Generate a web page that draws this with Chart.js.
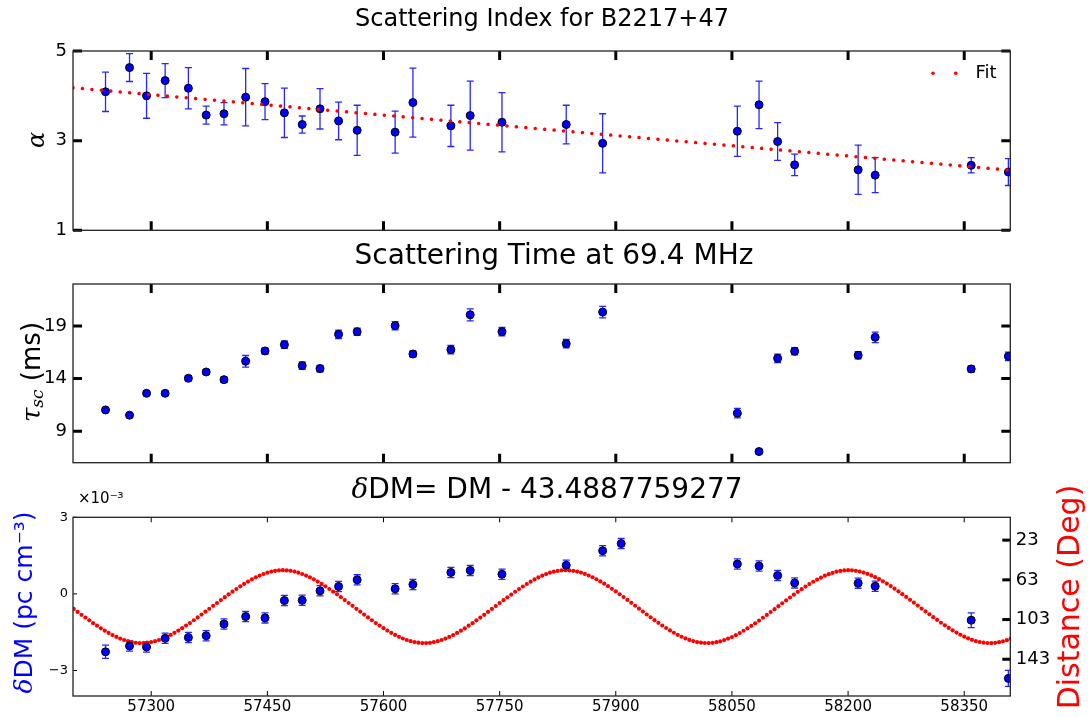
<!DOCTYPE html>
<html><head><meta charset="utf-8">
<script src="https://cdn.jsdelivr.net/npm/chart.js@4/dist/chart.umd.min.js"></script>
<style>
html,body{margin:0;padding:0;background:#fff;}
body{width:1091px;height:717px;position:relative;overflow:hidden;}
canvas{position:absolute;left:0;}
</style></head><body>
<canvas id="c1" width="1091" height="250" style="top:0px"></canvas>
<canvas id="c2" width="1091" height="245" style="top:235px"></canvas>
<canvas id="c3" width="1091" height="247" style="top:470px"></canvas>
<script>
// ---------- data ----------
const xTicks = [57300, 57450, 57600, 57750, 57900, 58050, 58200, 58350];
const xRange = [57199, 58409.5];

const mjd = [57241, 57272, 57294, 57318, 57348, 57371, 57394, 57422, 57447, 57472, 57495, 57518, 57542, 57566, 57615, 57638, 57687, 57712, 57753, 57836, 57883, 58057, 58085, 58109, 58131, 58213, 58235, 58359, 58407];

const alpha = [4.09, 4.63, 4.00, 4.34, 4.17, 3.57, 3.60, 3.97, 3.87, 3.62, 3.36, 3.71, 3.44, 3.23, 3.19, 3.85, 3.33, 3.56, 3.41, 3.36, 2.94, 3.21, 3.80, 2.98, 2.46, 2.35, 2.23, 2.45, 2.30];
const alphaErr = [0.44, 0.31, 0.50, 0.38, 0.46, 0.20, 0.25, 0.64, 0.40, 0.55, 0.19, 0.45, 0.42, 0.56, 0.47, 0.77, 0.46, 0.77, 0.66, 0.43, 0.66, 0.56, 0.53, 0.42, 0.24, 0.55, 0.39, 0.17, 0.30];
const fitMjd = [57199, 58409.5];
const fitAlpha = [4.18, 2.34];
const alphaTicks = [1, 3, 5];

const tau = [11.02, 10.52, 12.6, 12.6, 14.03, 14.63, 13.9, 15.65, 16.63, 17.23, 15.23, 14.95, 18.21, 18.46, 19.03, 16.34, 16.75, 20.07, 18.46, 17.32, 20.33, 10.71, 7.06, 15.93, 16.6, 16.22, 17.93, 14.92, 16.12];
const tauErr = [0.2, 0.2, 0.2, 0.2, 0.25, 0.2, 0.25, 0.55, 0.3, 0.35, 0.35, 0.3, 0.4, 0.35, 0.4, 0.3, 0.4, 0.57, 0.4, 0.4, 0.55, 0.45, 0.2, 0.4, 0.35, 0.35, 0.5, 0.3, 0.4];
const tauTicks = [9, 14, 19];

const dmMjd = [57241, 57272, 57294, 57318, 57348, 57371, 57394, 57422, 57447, 57472, 57495, 57518, 57542, 57566, 57615, 57638, 57687, 57712, 57753, 57836, 57883, 57907, 58057, 58085, 58109, 58131, 58213, 58235, 58359, 58407];
// delta DM in units of 1e-3 pc cm^-3
const dm = [-2.27, -2.04, -2.08, -1.74, -1.71, -1.64, -1.18, -0.89, -0.94, -0.26, -0.25, 0.12, 0.29, 0.55, 0.20, 0.37, 0.84, 0.92, 0.77, 1.12, 1.69, 1.97, 1.17, 1.09, 0.72, 0.43, 0.42, 0.30, -1.03, -3.31];
const dmErr = [0.26, 0.2, 0.2, 0.2, 0.2, 0.2, 0.2, 0.2, 0.2, 0.2, 0.2, 0.2, 0.2, 0.2, 0.2, 0.2, 0.2, 0.2, 0.2, 0.2, 0.2, 0.2, 0.2, 0.2, 0.2, 0.2, 0.2, 0.2, 0.29, 0.31];
const dmTicks = [-3, 0, 3];

const distMjd = [57195,57200,57205,57210,57215,57220,57225,57230,57235,57240,57245,57250,57255,57260,57265,57270,57275,57280,57285,57290,
57295,57300,57305,57310,57315,57320,57325,57330,57335,57340,57345,57350,57355,57360,57365,57370,57375,57380,57385,57390,
57395,57400,57405,57410,57415,57420,57425,57430,57435,57440,57445,57450,57455,57460,57465,57470,57475,57480,57485,57490,
57495,57500,57505,57510,57515,57520,57525,57530,57535,57540,57545,57550,57555,57560,57565,57570,57575,57580,57585,57590,
57595,57600,57605,57610,57615,57620,57625,57630,57635,57640,57645,57650,57655,57660,57665,57670,57675,57680,57685,57690,
57695,57700,57705,57710,57715,57720,57725,57730,57735,57740,57745,57750,57755,57760,57765,57770,57775,57780,57785,57790,
57795,57800,57805,57810,57815,57820,57825,57830,57835,57840,57845,57850,57855,57860,57865,57870,57875,57880,57885,57890,
57895,57900,57905,57910,57915,57920,57925,57930,57935,57940,57945,57950,57955,57960,57965,57970,57975,57980,57985,57990,
57995,58000,58005,58010,58015,58020,58025,58030,58035,58040,58045,58050,58055,58060,58065,58070,58075,58080,58085,58090,
58095,58100,58105,58110,58115,58120,58125,58130,58135,58140,58145,58150,58155,58160,58165,58170,58175,58180,58185,58190,
58195,58200,58205,58210,58215,58220,58225,58230,58235,58240,58245,58250,58255,58260,58265,58270,58275,58280,58285,58290,
58295,58300,58305,58310,58315,58320,58325,58330,58335,58340,58345,58350,58355,58360,58365,58370,58375,58380,58385,58390,
58395,58400,58405,58410];
const dist = [89.4,92.3,95.3,98.2,101.0,103.8,106.6,109.2,111.8,114.2,116.5,118.6,120.5,122.2,123.6,124.8,125.7,126.4,126.7,126.7,
126.3,125.7,124.8,123.6,122.1,120.4,118.5,116.4,114.1,111.7,109.1,106.5,103.7,100.9,98.0,95.1,92.2,89.2,86.3,83.4,
80.5,77.6,74.9,72.2,69.5,67.1,64.7,62.5,60.5,58.7,57.1,55.8,54.7,53.9,53.5,53.3,53.5,53.9,54.7,55.8,
57.1,58.7,60.5,62.5,64.7,67.1,69.5,72.2,74.9,77.6,80.5,83.4,86.3,89.2,92.2,95.1,98.0,100.9,103.7,106.5,
109.1,111.7,114.1,116.4,118.5,120.4,122.1,123.6,124.8,125.7,126.3,126.7,126.7,126.4,125.7,124.8,123.6,122.2,120.5,118.6,
116.5,114.2,111.8,109.2,106.6,103.8,101.0,98.2,95.3,92.3,89.4,86.4,83.5,80.6,77.8,75.0,72.3,69.7,67.2,64.8,
62.6,60.6,58.8,57.2,55.8,54.8,54.0,53.5,53.3,53.5,53.9,54.7,55.7,57.0,58.6,60.4,62.4,64.6,66.9,69.4,
72.0,74.7,77.5,80.3,83.2,86.1,89.1,92.0,95.0,97.9,100.7,103.6,106.3,109.0,111.5,113.9,116.3,118.4,120.3,122.0,
123.5,124.7,125.7,126.3,126.6,126.7,126.4,125.8,124.9,123.7,122.2,120.6,118.7,116.6,114.3,111.9,109.4,106.7,104.0,101.2,
98.3,95.4,92.5,89.5,86.6,83.7,80.8,77.9,75.1,72.4,69.8,67.3,64.9,62.7,60.7,58.8,57.3,55.9,54.8,54.0,
53.5,53.3,53.4,53.9,54.6,55.7,57.0,58.5,60.3,62.3,64.5,66.8,69.3,71.9,74.6,77.4,80.2,83.1,86.0,88.9,
91.9,94.8,97.7,100.6,103.4,106.2,108.8,111.4,113.8,116.1,118.3,120.2,121.9,123.4,124.7,125.6,126.3,126.6,126.7,126.4,
125.8,124.9,123.8,122.3];
const distTicks = [23, 63, 103, 143];

// ---------- helpers ----------
Chart.defaults.font.family = "'DejaVu Sans', sans-serif";
Chart.defaults.color = '#000';
Chart.defaults.animation = false;

const FONT = "'DejaVu Sans', sans-serif";
function pts(xs, ys) { return xs.map((x, i) => ({ x: x, y: ys[i] })); }
function fixTicks(arr) { return s => { s.ticks = arr.map(v => ({ value: v })); }; }
function minusFmt(v) { return v < 0 ? '\u2212' + Math.abs(v) : String(v); }

function errorBars(xs, ys, es, yId) {
  return {
    id: 'errbars',
    beforeDatasetsDraw(chart) {
      const ctx = chart.ctx, sx = chart.scales.x, sy = chart.scales[yId], a = chart.chartArea;
      ctx.save();
      ctx.beginPath(); ctx.rect(a.left, a.top, a.width, a.height); ctx.clip();
      ctx.strokeStyle = 'rgba(0,0,255,0.85)';
      ctx.lineWidth = 1.3;
      xs.forEach((x, i) => {
        const px = sx.getPixelForValue(x);
        const y1 = sy.getPixelForValue(ys[i] - es[i]);
        const y2 = sy.getPixelForValue(ys[i] + es[i]);
        ctx.beginPath();
        ctx.moveTo(px, y1); ctx.lineTo(px, y2);
        ctx.moveTo(px - 3.5, y1); ctx.lineTo(px + 3.5, y1);
        ctx.moveTo(px - 3.5, y2); ctx.lineTo(px + 3.5, y2);
        ctx.stroke();
      });
      ctx.restore();
    }
  };
}

function frame(spec) {
  return {
    id: 'frame',
    afterDatasetsDraw(chart) {
      const ctx = chart.ctx, a = chart.chartArea;
      ctx.save();
      ctx.strokeStyle = '#000';
      const sx = chart.scales.x;
      ctx.lineWidth = spec.xw;
      sx.ticks.forEach(t => {
        const p = sx.getPixelForValue(t.value);
        ctx.beginPath();
        ctx.moveTo(p, a.top); ctx.lineTo(p, a.top + spec.xl);
        ctx.moveTo(p, a.bottom); ctx.lineTo(p, a.bottom - spec.xl);
        ctx.stroke();
      });
      const sl = chart.scales[spec.left];
      ctx.lineWidth = spec.lw;
      sl.ticks.forEach(t => {
        const p = sl.getPixelForValue(t.value);
        ctx.beginPath();
        ctx.moveTo(a.left, p); ctx.lineTo(a.left + spec.ll, p);
        if (!spec.right) { ctx.moveTo(a.right, p); ctx.lineTo(a.right - spec.ll, p); }
        ctx.stroke();
      });
      if (spec.right) {
        const sr = chart.scales[spec.right];
        ctx.lineWidth = spec.rw;
        sr.ticks.forEach(t => {
          const p = sr.getPixelForValue(t.value);
          ctx.beginPath(); ctx.moveTo(a.right, p); ctx.lineTo(a.right - spec.rl, p); ctx.stroke();
        });
      }
      ctx.strokeStyle = '#222';
      ctx.lineWidth = 1.3;
      ctx.strokeRect(a.left, a.top, a.width, a.height);
      ctx.restore();
    },
    afterDraw(chart) {
      const ctx = chart.ctx;
      ctx.save();
      if (spec.title) hText(ctx, spec.title.x, spec.title.y, spec.title.parts);
      if (spec.extra) spec.extra(ctx, chart);
      ctx.restore();
    }
  };
}

function measure(ctx, parts) {
  let total = 0;
  parts.forEach(p => { ctx.font = p.font; total += ctx.measureText(p.t).width; });
  return total;
}
function drawParts(ctx, parts, startX) {
  let cx = startX;
  ctx.textBaseline = 'middle';
  ctx.textAlign = 'left';
  parts.forEach(p => {
    ctx.font = p.font; ctx.fillStyle = p.color || '#000';
    ctx.fillText(p.t, cx, p.dy || 0);
    cx += ctx.measureText(p.t).width;
  });
}
function hText(ctx, x, y, parts) {
  ctx.save(); ctx.translate(x, y);
  drawParts(ctx, parts, -measure(ctx, parts) / 2);
  ctx.restore();
}
function rotText(ctx, x, y, parts) {
  ctx.save(); ctx.translate(x, y); ctx.rotate(-Math.PI / 2);
  drawParts(ctx, parts, -measure(ctx, parts) / 2);
  ctx.restore();
}

function xScale(show, h) {
  return {
    type: 'linear', min: xRange[0], max: xRange[1],
    afterBuildTicks: fixTicks(xTicks),
    ticks: { display: show, font: { size: 15 }, padding: 2, maxRotation: 0, autoSkip: false, color: '#000', callback: v => String(v) },
    grid: { display: false, drawTicks: false }, border: { display: false },
    afterFit: s => { s.height = h; }
  };
}
const blueMarker = { pointRadius: 4, pointHoverRadius: 4, backgroundColor: '#0000ff', borderColor: '#000', borderWidth: 1 };
const baseOpts = { responsive: false, devicePixelRatio: 1, events: [] };
const noPlugins = { legend: { display: false }, tooltip: { enabled: false }, title: { display: false } };

// ---------- panel 1: scattering index ----------
new Chart(document.getElementById('c1'), {
  type: 'scatter',
  data: {
    datasets: [
      { type: 'line', label: 'Fit', data: pts(fitMjd, fitAlpha), borderColor: '#ff0000', borderWidth: 3.5, borderDash: [0.01, 9.46], borderCapStyle: 'round', pointRadius: 0, fill: false, order: 0 },
      Object.assign({ label: 'alpha', data: pts(mjd, alpha), order: 1 }, blueMarker)
    ]
  },
  options: Object.assign({}, baseOpts, {
    layout: { padding: { top: 51, right: 80.7 } },
    plugins: noPlugins,
    scales: {
      x: xScale(false, 19.7),
      y: {
        type: 'linear', min: 1, max: 5, afterBuildTicks: fixTicks(alphaTicks),
        ticks: { font: { size: 18 }, padding: 6, color: '#000' },
        grid: { display: false, drawTicks: false }, border: { display: false }, afterFit: s => { s.width = 73; }
      }
    }
  }),
  plugins: [errorBars(mjd, alpha, alphaErr, 'y'), frame({
    xw: 3, xl: 9, left: 'y', lw: 3, ll: 9,
    title: { x: 542, y: 20, parts: [{ t: 'Scattering Index for B2217+47', font: "24px " + FONT }] },
    extra: (ctx) => {
      rotText(ctx, 38, 140, [{ t: '\u03b1', font: "italic 24px 'DejaVu Serif', serif" }]);
      ctx.fillStyle = '#ff0000';
      [933, 955.7].forEach(x => { ctx.beginPath(); ctx.arc(x, 73.3, 1.8, 0, Math.PI * 2); ctx.fill(); });
      ctx.fillStyle = '#000'; ctx.font = "18px " + FONT; ctx.textBaseline = 'middle'; ctx.textAlign = 'left';
      ctx.fillText('Fit', 975.5, 73.3);
    }
  })]
});

// ---------- panel 2: scattering time ----------
new Chart(document.getElementById('c2'), {
  type: 'scatter',
  data: { datasets: [Object.assign({ label: 'tau', data: pts(mjd, tau) }, blueMarker)] },
  options: Object.assign({}, baseOpts, {
    layout: { padding: { top: 49, right: 80.7 } },
    plugins: noPlugins,
    scales: {
      x: xScale(false, 17.3),
      y: {
        type: 'linear', min: 6, max: 23, afterBuildTicks: fixTicks(tauTicks),
        ticks: { font: { size: 18 }, padding: 6, color: '#000' },
        grid: { display: false, drawTicks: false }, border: { display: false }, afterFit: s => { s.width = 73; }
      }
    }
  }),
  plugins: [errorBars(mjd, tau, tauErr, 'y'), frame({
    xw: 3, xl: 9, left: 'y', lw: 3, ll: 9,
    title: { x: 554, y: 22, parts: [{ t: 'Scattering Time at 69.4 MHz', font: "28px " + FONT }] },
    extra: (ctx) => {
      rotText(ctx, 33, 137, [
        { t: '\u03c4', font: "italic 26px 'DejaVu Serif', serif" },
        { t: 'sc', font: "italic 17px 'DejaVu Serif', serif", dy: 6 },
        { t: ' (ms)', font: "26px " + FONT }
      ]);
    }
  })]
});

// ---------- panel 3: delta DM + solar distance ----------
new Chart(document.getElementById('c3'), {
  type: 'scatter',
  data: {
    datasets: [
      Object.assign({ label: 'dDM', data: pts(dmMjd, dm), yAxisID: 'y', order: 0 }, blueMarker),
      { label: 'Distance', data: pts(distMjd, dist), yAxisID: 'y2', pointRadius: 2.1, pointHoverRadius: 2.1, backgroundColor: '#ff0000', borderWidth: 0, order: 1 }
    ]
  },
  options: Object.assign({}, baseOpts, {
    layout: { padding: { top: 47.3 } },
    plugins: noPlugins,
    scales: {
      x: xScale(true, 21),
      y: {
        type: 'linear', position: 'left', min: -4, max: 3, afterBuildTicks: fixTicks(dmTicks),
        ticks: { font: { size: 13 }, padding: 5, color: '#000', callback: minusFmt },
        grid: { display: false, drawTicks: false }, border: { display: false }, afterFit: s => { s.width = 73; }
      },
      y2: {
        type: 'linear', position: 'right', min: 0, max: 180, reverse: true, afterBuildTicks: fixTicks(distTicks),
        ticks: { font: { size: 18 }, padding: 5.5, color: '#000' },
        grid: { display: false, drawTicks: false }, border: { display: false }, afterFit: s => { s.width = 80.7; }
      }
    }
  }),
  plugins: [errorBars(dmMjd, dm, dmErr, 'y'), frame({
    xw: 1, xl: 5, left: 'y', lw: 1, ll: 4, right: 'y2', rw: 3, rl: 8,
    title: { x: 547, y: 21, parts: [
      { t: '\u03b4', font: "italic 28px 'DejaVu Serif', serif" },
      { t: 'DM= DM - 43.4887759277', font: "28px " + FONT }
    ] },
    extra: (ctx) => {
      ctx.fillStyle = '#000'; ctx.font = "15px " + FONT; ctx.textBaseline = 'middle'; ctx.textAlign = 'left';
      ctx.fillText('\u00d710\u207b\u00b3', 78, 29);
      rotText(ctx, 25, 132.5, [
        { t: '\u03b4', font: "italic 25px 'DejaVu Serif', serif", color: '#0000ff' },
        { t: 'DM (pc cm\u207b\u00b3)', font: "25px " + FONT, color: '#0000ff' }
      ]);
      rotText(ctx, 1071, 127, [{ t: 'Distance (Deg)', font: "30px " + FONT, color: '#ff0000' }]);
    }
  })]
});
</script>
</body></html>
